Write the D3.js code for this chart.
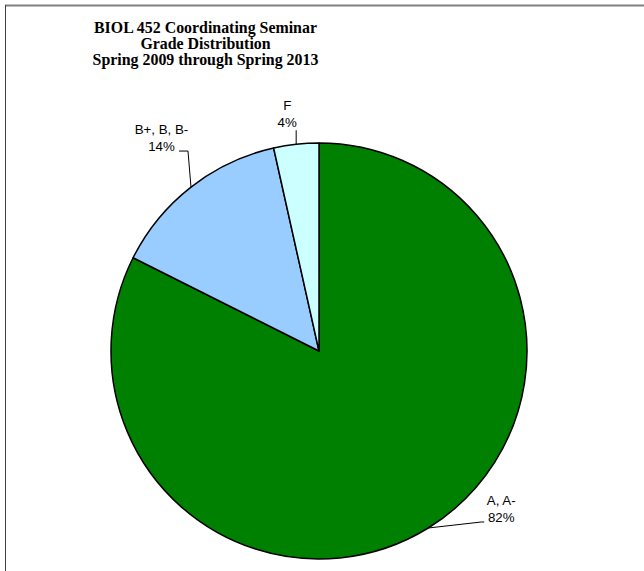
<!DOCTYPE html>
<html><head><meta charset="utf-8">
<script src="https://cdn.jsdelivr.net/npm/d3@7"></script>
<style>body{margin:0;background:#fff}svg{display:block}</style>
</head><body>
<script>
const categories = ["A, A-", "B+, B, B-", "F"];
const values = [82.4, 14.1, 3.5];
const colors = ["#008000", "#99CCFF", "#CCFFFF"];
const titleLines = ["BIOL 452 Coordinating Seminar", "Grade Distribution", "Spring 2009 through Spring 2013"];

const W = 644, H = 571;
const cx = 319, cy = 351, R = 208;
const svg = d3.select("body").append("svg").attr("width", W).attr("height", H);

// frame
svg.append("line").attr("x1", 5).attr("x2", W).attr("y1", 5.5).attr("y2", 5.5).attr("stroke", "#808080").attr("stroke-width", 2);
svg.append("line").attr("x1", 5.5).attr("x2", 5.5).attr("y1", 5).attr("y2", H).attr("stroke", "#404040").attr("stroke-width", 1);

// title
const title = svg.append("text").attr("text-anchor", "middle")
  .attr("font-family", "'Liberation Serif','Times New Roman',serif").attr("font-weight", "bold").attr("font-size", 15.9);
titleLines.forEach((t, i) => title.append("tspan").attr("x", 205.5).attr("y", 33 + i * 15.8).text(t));

const total = d3.sum(values);
const data = categories.map((c, i) => ({ cat: c, value: values[i], color: colors[i] }));
const pie = d3.pie().value(d => d.value).sort(null).startAngle(0).endAngle(2 * Math.PI);
const arcs = pie(data);
const arc = d3.arc().innerRadius(0).outerRadius(R);

const g = svg.append("g").attr("transform", `translate(${cx},${cy})`);
g.selectAll("path").data(arcs).join("path")
  .attr("d", arc).attr("fill", d => d.data.color)
  .attr("stroke", "#000").attr("stroke-width", 1.5).attr("stroke-linejoin", "round");

// leader lines and labels: offsets relative to arc edge point
const leaders = [
  { elbow: [53, -6], end: [56, -6], label: [73, -23] },
  { elbow: [-3, -36], end: [-12, -36], label: [-29.5, -53] },
  { elbow: [0, -14], end: [0, -14], label: [-9, -34] }
];
arcs.forEach((d, i) => {
  const a = (d.startAngle + d.endAngle) / 2;
  const px = R * Math.sin(a), py = -R * Math.cos(a);
  const L = leaders[i];
  g.append("polyline")
    .attr("points", [[px, py], [px + L.elbow[0], py + L.elbow[1]], [px + L.end[0], py + L.end[1]]].map(p => p.join(",")).join(" "))
    .attr("fill", "none").attr("stroke", "#000").attr("stroke-width", 1);
  const t = g.append("text").attr("text-anchor", "middle")
    .attr("font-family", "'Liberation Sans',Arial,sans-serif").attr("font-size", 13.3).attr("fill", "#000");
  t.append("tspan").attr("x", px + L.label[0]).attr("y", py + L.label[1]).text(d.data.cat);
  t.append("tspan").attr("x", px + L.label[0]).attr("y", py + L.label[1] + 17).text(Math.round(d.data.value / total * 100) + "%");
});
</script>
</body></html>
